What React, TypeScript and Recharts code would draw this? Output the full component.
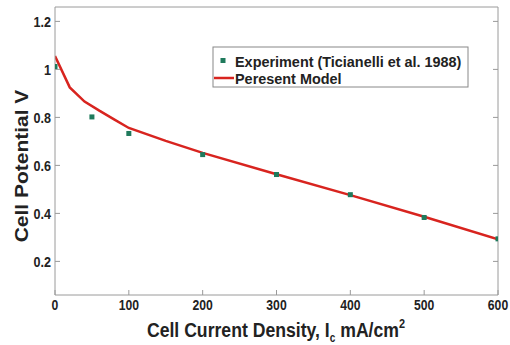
import React from 'react';
import { ComposedChart, Line, Scatter, XAxis, YAxis } from 'recharts';

const currentTicks = [0, 100, 200, 300, 400, 500, 600];
const potentialTicks = [0.2, 0.4, 0.6, 0.8, 1, 1.2];

const expCurrent = [0, 50, 100, 200, 300, 400, 500, 600];
const expPotential = [1.012, 0.802, 0.733, 0.645, 0.562, 0.478, 0.383, 0.294];

const modelCurrent = [0, 20, 40, 60, 80, 100, 150, 200, 300, 400, 500, 600];
const modelPotential = [1.056, 0.925, 0.866, 0.828, 0.792, 0.756, 0.702, 0.652, 0.563, 0.476, 0.386, 0.292];

const expData = expCurrent.map((x, i) => ({ x, y: expPotential[i] }));
const modelData = modelCurrent.map((x, i) => ({ x, y: modelPotential[i] }));

const FONT = '"Liberation Sans", Arial, sans-serif';
const AXIS_COLOR = '#9a9a9a';
const TEXT_COLOR = '#222';
const RED = '#d8241f';
const GREEN = '#1f7a5c';
const SQUEEZE = 0.84;

const Square = (props: any) => {
  const { cx, cy } = props;
  if (cx == null || cy == null) return <g />;
  return <rect x={cx - 2.5} y={cy - 2.5} width={5} height={5} fill={GREEN} />;
};

const XTick = (props: any) => {
  const { x, y, payload } = props;
  return (
    <g transform={`translate(${x},${y + 14.5}) scale(${SQUEEZE},1)`}>
      <text x={0} y={0} textAnchor="middle" fontFamily={FONT} fontSize={14.5} fontWeight={700} fill={TEXT_COLOR}>
        {String(payload.value)}
      </text>
    </g>
  );
};

const YTick = (props: any) => {
  const { x, y, payload } = props;
  return (
    <g transform={`translate(${x - 4},${y + 5.5}) scale(${SQUEEZE},1)`}>
      <text x={0} y={0} textAnchor="end" fontFamily={FONT} fontSize={15} fontWeight={700} fill={TEXT_COLOR}>
        {String(payload.value)}
      </text>
    </g>
  );
};

const XTitle = () => (
  <g transform={`translate(276,337) scale(${SQUEEZE},1)`}>
    <text x={0} y={0} textAnchor="middle" fontFamily={FONT} fontSize={21} fontWeight={700} fill={TEXT_COLOR}>
      Cell Current Density, I
      <tspan fontSize={12} dy={5}>c</tspan>
      <tspan dy={-5}> mA/cm</tspan>
      <tspan fontSize={13} dy={-9}>2</tspan>
    </text>
  </g>
);

const YTitle = () => (
  <g transform={`translate(28,166) scale(${SQUEEZE},1) rotate(-90)`}>
    <text x={0} y={0} textAnchor="middle" fontFamily={FONT} fontSize={21} fontWeight={700} fill={TEXT_COLOR}>
      Cell Potential V
    </text>
  </g>
);

const LegendBox = () => (
  <g>
    <rect x={213} y={47} width={255} height={40} fill="#fff" stroke="#888" strokeWidth={1} />
    <rect x={220.5} y={58} width={5} height={5} fill={GREEN} />
    <g transform={`translate(235,66.5) scale(1.03,1)`}>
      <text x={0} y={0} fontFamily={FONT} fontSize={14} fontWeight={700} fill={TEXT_COLOR}>
        Experiment (Ticianelli et al. 1988)
      </text>
    </g>
    <line x1={214} y1={78} x2={234} y2={78} stroke={RED} strokeWidth={2.5} />
    <g transform={`translate(235,83.5) scale(1.03,1)`}>
      <text x={0} y={0} fontFamily={FONT} fontSize={14} fontWeight={700} fill={TEXT_COLOR}>
        Peresent Model
      </text>
    </g>
  </g>
);

export default function App() {
  return (
    <div style={{ position: 'absolute', left: 0, top: 0, width: 510, height: 345, background: '#fff' }}>
      <ComposedChart width={510} height={345} margin={{ top: 6, right: 11, bottom: 49, left: 54 }}>
        <XAxis
          type="number"
          dataKey="x"
          domain={[0, 600]}
          ticks={currentTicks}
          height={1}
          tickSize={-5}
          tickMargin={5}
          tick={<XTick />}
          axisLine={{ stroke: AXIS_COLOR }}
          tickLine={{ stroke: AXIS_COLOR }}
          allowDataOverflow
        />
        <XAxis
          xAxisId="top"
          orientation="top"
          type="number"
          domain={[0, 600]}
          ticks={currentTicks}
          height={1}
          tickSize={-5}
          tick={() => <g />}
          axisLine={{ stroke: AXIS_COLOR }}
          tickLine={{ stroke: AXIS_COLOR }}
          allowDataOverflow
        />
        <YAxis
          type="number"
          dataKey="y"
          domain={[0.06, 1.26]}
          ticks={potentialTicks}
          width={1}
          tickSize={-5}
          tickMargin={5}
          tick={<YTick />}
          axisLine={{ stroke: AXIS_COLOR }}
          tickLine={{ stroke: AXIS_COLOR }}
          allowDataOverflow
        />
        <YAxis
          yAxisId="right"
          orientation="right"
          type="number"
          domain={[0.06, 1.26]}
          ticks={potentialTicks}
          width={1}
          tickSize={-5}
          tick={() => <g />}
          axisLine={{ stroke: AXIS_COLOR }}
          tickLine={{ stroke: AXIS_COLOR }}
          allowDataOverflow
        />
        <Line
          data={modelData}
          dataKey="y"
          type="linear"
          stroke={RED}
          strokeWidth={2.5}
          dot={false}
          isAnimationActive={false}
        />
        <Scatter data={expData} dataKey="y" shape={Square} isAnimationActive={false} />
        <LegendBox />
        <XTitle />
        <YTitle />
      </ComposedChart>
    </div>
  );
}
